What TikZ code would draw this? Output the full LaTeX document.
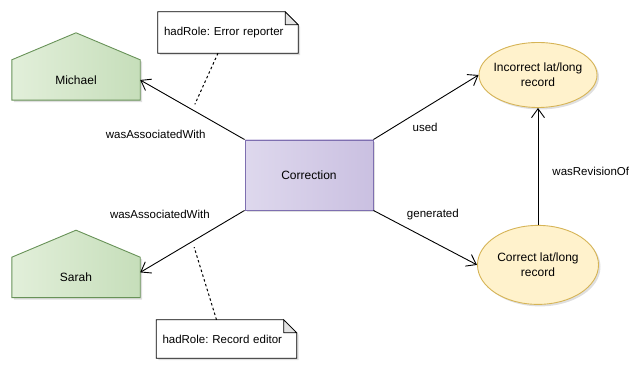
\documentclass[tikz,border=0pt]{standalone}
\usepackage{fontspec}
\setmainfont{Liberation Sans}
\usetikzlibrary{arrows.meta, positioning, backgrounds, shadows, shapes.geometric}
\definecolor{agentL}{RGB}{226,239,218}
\definecolor{agentR}{RGB}{198,222,186}
\definecolor{agentB}{RGB}{104,146,88}
\definecolor{actL}{RGB}{222,216,237}
\definecolor{actR}{RGB}{202,192,225}
\definecolor{actB}{RGB}{126,111,176}
\definecolor{entF}{RGB}{255,242,204}
\definecolor{entB}{RGB}{214,180,86}
\definecolor{foldgray}{RGB}{228,228,228}
\frenchspacing

\begin{document}
\begin{tikzpicture}[x=1pt, y=1pt,
  boxshadow/.style={drop shadow={shadow xshift=2pt, shadow yshift=-2pt, opacity=0.25}},
  agent/.style={minimum width=128pt, minimum height=40pt, inner sep=0pt, font=\fontsize{12}{14}\selectfont},
  house/.style={boxshadow, draw=agentB, line width=0.9pt, left color=agentL, right color=agentR},
  activity/.style={draw=actB, line width=0.9pt, left color=actL, right color=actR, boxshadow, minimum width=128pt, minimum height=70pt, font=\fontsize{12}{14}\selectfont},
  entity/.style={ellipse, draw=entB, line width=0.9pt, fill=entF, boxshadow, inner xsep=-12pt, inner ysep=0pt, align=center, font=\fontsize{12}{15}\selectfont},
  role/.style={minimum height=41pt, text width=128pt, inner xsep=6pt, align=left, font=\fontsize{11.5}{13}\selectfont},
  roleframe/.style={draw, line width=0.8pt, fill=white, boxshadow},
  fold/.style={draw, line width=0.8pt, fill=foldgray},
  arr/.style={-{Straight Barb[length=9pt, width=13pt]}, line width=0.9pt},
  tlbl/.style={font=\fontsize{11.5}{13}\selectfont, inner sep=2pt},
  dots/.style={line width=1pt, dash pattern=on 2.5pt off 2.5pt, shorten >=6pt}
]
\useasboundingbox (0,0) rectangle (640,369);

\node[activity] (correction) at (309,194) {Correction};
\node[agent] (michael) at (76,289) {Michael};
\node[agent, below=157pt of michael] (sarah) {Sarah};
\node[entity, minimum width=118pt, minimum height=65pt] (incorrect) at (538,294) {Incorrect lat/long\\record};
\node[entity, minimum width=121pt, minimum height=79pt, below=117pt of incorrect] (correct) {Correct lat/long\\record};
\node[role] (roleerr) at (228,336.5) {hadRole: Error reporter};
\node[role, minimum height=38pt] (roleedit) at (226.5,30) {hadRole: Record editor};

% houses and notes behind the texts
\begin{scope}[on background layer]
  \foreach \n in {michael,sarah}
    \path[house] (\n.south west) -- (\n.north west) -- ([yshift=27pt]\n.north) -- (\n.north east) -- (\n.south east) -- cycle;
  \foreach \n in {roleerr,roleedit} {
    \path[roleframe] (\n.south west) -- (\n.north west) -- ([xshift=-13pt]\n.north east) -- ([yshift=-13pt]\n.north east) -- (\n.south east) -- cycle;
    \path[fold] ([xshift=-13pt]\n.north east) -- ([xshift=-13pt,yshift=-13pt]\n.north east) -- ([yshift=-13pt]\n.north east) -- cycle;
  }
\end{scope}

\draw[arr] (correction.north west) -- (michael.east)
  node[tlbl, pos=0.35, anchor=north east, yshift=-9pt] {wasAssociatedWith}
  coordinate[pos=0.5] (assocA);
\draw[arr] (correction.south west) -- ([yshift=5pt]sarah.east)
  node[tlbl, pos=0.31, anchor=south east, yshift=9pt] {wasAssociatedWith}
  coordinate[pos=0.5] (assocB);
\draw[arr] (correction.north east) -- (incorrect.west) node[tlbl, pos=0.35, anchor=north west, yshift=-4pt] {used};
\draw[arr] (correction.south east) -- (correct.west) node[tlbl, pos=0.3, anchor=south west, yshift=4pt] {generated};
\draw[arr] (correct) -- (incorrect) node[tlbl, pos=0.46, anchor=west, xshift=12pt] {wasRevisionOf};

\draw[dots] ([xshift=-10pt]roleerr.south) -- (assocA);
\draw[dots] ([xshift=-10pt]roleedit.north) -- (assocB);
\end{tikzpicture}
\end{document}
